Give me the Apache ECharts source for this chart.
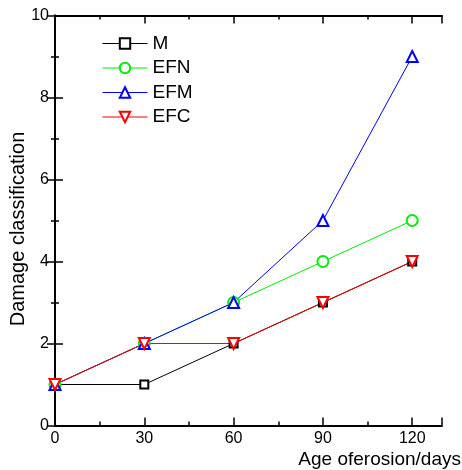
<!DOCTYPE html>
<html>
<head>
<meta charset="utf-8">
<script src="https://cdn.jsdelivr.net/npm/echarts@6/dist/echarts.min.js"></script>
<style>html,body{margin:0;padding:0;background:#fff}#c{width:462px;height:470px}</style>
</head>
<body>
<div id="c"></div>
<script>
const days = [0, 30, 60, 90, 120];
const seriesNames = ['M', 'EFN', 'EFM', 'EFC'];
const M   = [1, 1, 2, 3, 4];
const EFN = [1, 2, 3, 4, 5];
const EFM = [1, 2, 3, 5, 9];
const EFC = [1, 2, 2, 3, 4];
const xLabels = [0, 30, 60, 90, 120];
const yLabels = [0, 2, 4, 6, 8, 10];
const xTitle = 'Age oferosion/days';
const yTitle = 'Damage classification';

const chart = echarts.init(document.getElementById('c'), null, {renderer: 'canvas'});
const font = 'Liberation Sans, Arial, Helvetica, sans-serif';
const pair = arr => days.map((d, i) => [d, arr[i]]);

function xAx(pos, major, labels) {
  return {
    type: 'value', position: pos, min: 0, max: 130, interval: major ? 30 : 15,
    axisLine: {show: major, lineStyle: {color: '#000', width: 2}},
    axisTick: {show: true, inside: true, length: major ? 8 : 4, lineStyle: {color: '#000', width: 1.5}},
    axisLabel: {show: labels, color: '#000', fontSize: 16, fontFamily: font, margin: 5,
      formatter: v => xLabels.includes(v) ? String(v) : ''},
    splitLine: {show: false}
  };
}
function yAx(pos, labels) {
  return {
    type: 'value', position: pos, min: 0, max: 10, interval: 2,
    axisLine: {show: true, lineStyle: {color: '#000', width: 2}},
    axisTick: {show: true, inside: true, length: 8, lineStyle: {color: '#000', width: 1.5}},
    minorTick: {show: true, splitNumber: 2, length: 4, lineStyle: {color: '#000', width: 1.5}},
    axisLabel: {show: labels, color: '#000', fontSize: 16, fontFamily: font, margin: 6,
      formatter: v => yLabels.includes(v) ? String(v) : ''},
    splitLine: {show: false}, minorSplitLine: {show: false}
  };
}

const styles = {
  M:   {color: '#000000', symbol: 'emptyRect', size: 8, rot: 0},
  EFN: {color: '#00ee00', symbol: 'emptyCircle', size: 11, rot: 0},
  EFM: {color: '#0000ff', symbol: 'emptyTriangle', size: 11, rot: 0},
  EFC: {color: '#ff0000', symbol: 'emptyTriangle', size: 11, rot: 180}
};
const dataMap = {M, EFN, EFM, EFC};

chart.setOption({
  animation: false,
  backgroundColor: '#fff',
  grid: {left: 55, top: 15.5, right: 20, bottom: 44.5, containLabel: false},
  xAxis: [xAx('bottom', true, true), xAx('bottom', false, false), xAx('top', true, false), xAx('top', false, false)],
  yAxis: [yAx('left', true), yAx('right', false)],
  legend: {
    orient: 'vertical', left: 97, top: 29, itemWidth: 45, itemHeight: 13, itemGap: 5.5,
    textStyle: {fontSize: 19, fontFamily: font, color: '#000'},
    lineStyle: {width: 1},
    itemStyle: {borderWidth: 0.8},
    data: seriesNames
  },
  graphic: [
    {type: 'text', x: 461, y: 460, style: {text: xTitle, fontSize: 19, fontFamily: font, fill: '#000', align: 'right', verticalAlign: 'middle'}},
    {type: 'text', x: 18, y: 229, rotation: Math.PI / 2, style: {text: yTitle, fontSize: 20, fontFamily: font, fill: '#000', align: 'center', verticalAlign: 'middle'}}
  ],
  series: seriesNames.map(n => ({
    name: n, type: 'line', xAxisIndex: 0, yAxisIndex: 0,
    data: pair(dataMap[n]),
    symbol: styles[n].symbol, symbolSize: styles[n].size, symbolRotate: styles[n].rot,
    lineStyle: {color: styles[n].color, width: 1},
    itemStyle: {color: styles[n].color, borderWidth: 1},
    emphasis: {disabled: true}
  }))
});
</script>
</body>
</html>
